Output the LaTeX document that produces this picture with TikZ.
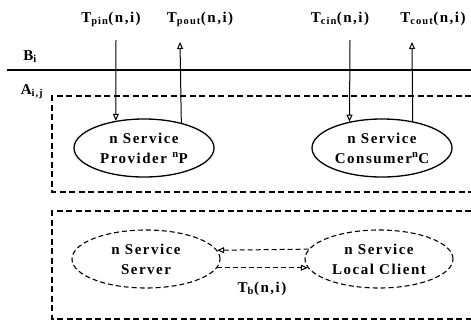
\documentclass[tikz,border=0pt]{standalone}
\usepackage{fontspec}
\setmainfont{Liberation Serif}[LetterSpace=10]
\usetikzlibrary{shapes.geometric,arrows.meta}
\begin{document}
\begin{tikzpicture}[x=1pt,y=-1pt,
  every node/.style={font=\fontsize{15}{20}\selectfont\bfseries},
  ell/.style={draw,line width=1.3pt,ellipse,minimum width=140pt,minimum height=58pt,inner sep=0pt,align=center},
  dell/.style={ell,line width=1.1pt,dash pattern=on 5pt off 3pt,minimum width=148pt},
  lbl/.style={inner sep=0pt,anchor=base},
  arr/.style={line width=1pt,-{Triangle[open,length=7pt,width=6pt,line width=1pt]}},
  darr/.style={arr,dash pattern=on 5pt off 3pt},
  box/.style={line width=1.1pt,dash pattern=on 6pt off 3.5pt}]
\useasboundingbox (0,0) rectangle (471,322);
% boundary line
\coordinate (l0) at (7,70);
\coordinate (l1) at (471,70);
\draw[line width=1.4pt] (l0) -- (l1);
\node[lbl] (bi) at (30,60) {B\textsubscript{i}};
\node[lbl] (aij) at (32,94) {A\textsubscript{i,j}};
% dashed boxes
\draw[box] (471,96) -- (52,96) -- (52,192) -- (471,192);
\draw[box] (471,211) -- (52,211) -- (52,319) -- (471,319);
% upper ellipses
\node[ell] (prov) at (144,148) {n Service\\Provider \textsuperscript{n}P};
\node[ell] (cons) at (382,148) {n Service\\Consumer\textsuperscript{n}C};
% labels
\node[lbl] (tpin) at (111,22) {T\textsubscript{pin}(n,i)};
\node[lbl] (tpout) at (200,22) {T\textsubscript{pout}(n,i)};
\node[lbl] (tcin) at (340,22) {T\textsubscript{cin}(n,i)};
\node[lbl] (tcout) at (433,22) {T\textsubscript{cout}(n,i)};
\coordinate (a1) at (116,40);
\coordinate (a2) at (180,42);
\coordinate (a3) at (350,40);
\coordinate (a4) at (412,42);
\draw[arr] (a1) -- (prov.136.5);
\draw[arr] (prov.34.6) -- (a2);
\draw[arr] (a3) -- (cons.141.1);
\draw[arr] (cons.41.1) -- (a4);
% lower ellipses
\node[dell] (srv) at (146,259) {n Service\\Server};
\node[dell] (cli) at (379,259) {n Service\\Local Client};
\draw[darr] (cli.172.7) -- (srv.7.3);
\draw[darr] (srv.-7.3) -- (cli.187.3);
\node[lbl] (tb) at (262,292) {T\textsubscript{b}(n,i)};
\end{tikzpicture}
\end{document}
